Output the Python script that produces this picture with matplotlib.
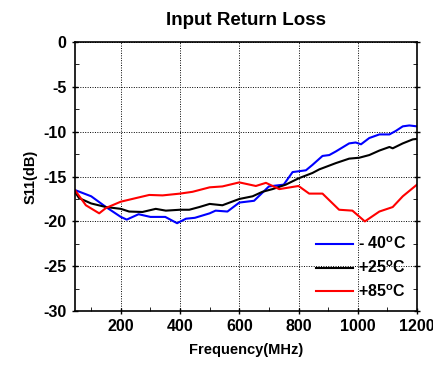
import numpy as np
import matplotlib.pyplot as plt

plt.rcParams['font.family'] = ['Liberation Sans', 'DejaVu Sans']
plt.rcParams['font.weight'] = 'bold'
plt.rcParams['axes.unicode_minus'] = False
plt.rcParams['mathtext.fontset'] = 'custom'
plt.rcParams['mathtext.rm'] = 'Liberation Sans:bold'
plt.rcParams['mathtext.it'] = 'Liberation Sans:bold'
plt.rcParams['mathtext.bf'] = 'Liberation Sans:bold'

# -40 C
f_m40 = [45, 100, 150, 200, 220, 260, 300, 350, 390, 420, 450, 500, 520, 560, 600,
         650, 700, 750, 780, 825, 847, 881, 904, 926, 971, 993, 1011, 1039, 1073,
         1107, 1129, 1152, 1174, 1200]
s_m40 = [-16.5, -17.2, -18.4, -19.5, -19.8, -19.2, -19.5, -19.5, -20.2, -19.7, -19.6,
         -19.1, -18.8, -18.9, -17.9, -17.7, -16.1, -15.9, -14.5, -14.3, -13.7, -12.7,
         -12.6, -12.2, -11.3, -11.2, -11.4, -10.7, -10.3, -10.3, -9.9, -9.4, -9.3, -9.4]

# +25 C
f_p25 = [45, 59, 100, 150, 200, 228, 273, 318, 352, 400, 431, 465, 500, 543, 600,
         645, 678, 712, 757, 800, 847, 870, 926, 971, 1005, 1039, 1073, 1107, 1118,
         1152, 1186, 1200]
s_p25 = [-16.7, -17.4, -18.0, -18.4, -18.6, -18.9, -18.95, -18.6, -18.8, -18.7, -18.7,
         -18.4, -18.05, -18.2, -17.5, -17.2, -16.7, -16.4, -15.9, -15.2, -14.6, -14.2,
         -13.5, -13.0, -12.9, -12.6, -12.1, -11.7, -11.85, -11.3, -10.85, -10.8]

# +85 C
f_p85 = [45, 82, 127, 150, 200, 251, 296, 341, 400, 442, 500, 543, 600, 656, 690,
         735, 800, 836, 881, 937, 982, 1024, 1073, 1118, 1152, 1200]
s_p85 = [-16.5, -18.2, -19.1, -18.5, -17.8, -17.4, -17.05, -17.1, -16.9, -16.7, -16.2,
         -16.1, -15.65, -16.05, -15.7, -16.4, -16.05, -16.9, -16.9, -18.7, -18.8, -20.0,
         -18.9, -18.4, -17.2, -15.9]

fig = plt.figure(figsize=(4.33, 3.69), dpi=100)
ax = fig.add_axes([0.173, 0.157, 0.790, 0.729])

ax.plot(f_m40, s_m40, color='#0000ff', lw=1.5, label='- 40$^{o}$C')
ax.plot(f_p25, s_p25, color='black', lw=1.5, label='+25$^{o}$C')
ax.plot(f_p85, s_p85, color='#ff0000', lw=1.5, label='+85$^{o}$C')

ax.set_xlim(45, 1200)
ax.set_ylim(-30, 0)
ax.set_xticks([200, 400, 600, 800, 1000, 1200])
ax.set_xticks(np.arange(100, 1200, 200), minor=True)
ax.set_yticks([0, -5, -10, -15, -20, -25, -30])
ax.set_yticks(np.arange(-27.5, 0, 5), minor=True)
ax.grid(True, which='major', color='black', linestyle=(0, (1, 1.5)), linewidth=0.7)
ax.tick_params(which='major', direction='inout', length=5, labelsize=11.5,
               right=True, top=False, width=1)
ax.tick_params(which='minor', direction='in', length=3, right=True, top=False)
for lab in ax.get_xticklabels() + ax.get_yticklabels():
    lab.set_fontweight('bold')
for sp in ax.spines.values():
    sp.set_linewidth(1.2)

ax.set_title('Input Return Loss', fontsize=13.5, fontweight='bold', pad=12)
ax.set_xlabel('Frequency(MHz)', fontsize=10.5, fontweight='bold', labelpad=6)
ax.set_ylabel('S11(dB)', fontsize=10.5, fontweight='bold', labelpad=4)

leg = ax.legend(loc='lower right', frameon=False, fontsize=11.5, handlelength=2.3,
                handletextpad=0.3, labelspacing=0.45, borderaxespad=0.3)

fig.savefig('out.png', dpi=100)
